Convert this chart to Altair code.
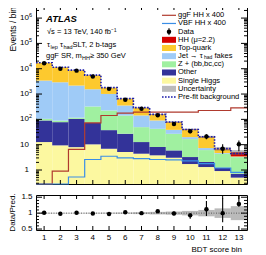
import altair as alt
import pandas as pd

# ---------------- data ----------------
bins = list(range(1, 14))
single_higgs = [12.7, 9.4, 8.0, 10.3, 6.9, 5.1, 4.4, 3.8, 3.05, 1.72, 1.31, 0.91, 0.50]
other = [77.8, 68.2, 96.7, 62.5, 30.7, 21.8, 8.3, 4.3, 2.9, 1.53, 0.76, 0.32, 0.21]
z_hf = [14.2, 11.3, 12.0, 249, 186, 115.6, 36.6, 34.2, 20.9, 13.35, 4.05, 3.15, 2.5]
fakes = [3295, 2826, 2044, 1223, 785, 209.5, 93.2, 48.2, 11.7, 3.3, 1.23, 0.29, 0.1]
top_quark = [13670, 8435, 6490, 3955, 761, 301, 141.5, 65.5, 39, 19.1, 12.5, 1.9, 0.15]
hh_signal = [0.002, 0.005, 0.04, 0.4, 0.8, 1.0, 1.05, 1.05, 1.1, 1.1, 0.5, 0.3, 1.55]
rel_unc = [0.01, 0.01, 0.01, 0.012, 0.015, 0.02, 0.03, 0.04, 0.05, 0.07, 0.10, 0.15, 0.22]

data_vals = [16500, 9900, 8400, 4900, 1600, 590, 260, 146, 66, 34, 21, 6.9, 10.3]
data_lo = [16370, 9800, 8310, 4830, 1560, 566, 244, 134, 58, 28, 16.5, 4.4, 5.5]
data_hi = [16630, 10000, 8490, 4970, 1640, 614, 276, 158, 74, 40, 25.6, 10.3, 14.5]

prefit = [17300, 11500, 8800, 5600, 1800, 660, 290, 158, 79, 40, 20.5, 7.0, 4.5]
ggf_x400 = [0.2, 0.9, 6.5, 73, 142, 175, 192, 192, 192, 192, 224, 224, 284]
vbf_x400 = [0.2, 0.2, 0.53, 2.6, 3.5, 3.0, 2.8, 2.6, 2.5, 2.3, 1.8, 1.2, 0.8]

ratio_vals = [1.01, 0.98, 1.01, 0.99, 0.97, 1.03, 1.0, 1.06, 0.99, 0.93, 1.12, 1.0, 1.29]
ratio_lo = [1.0, 0.975, 1.0, 0.98, 0.955, 1.0, 0.96, 1.02, 0.93, 0.82, 0.91, 0.71, 1.2]
ratio_hi = [1.02, 0.985, 1.02, 1.0, 0.985, 1.06, 1.04, 1.10, 1.05, 1.0, 1.38, 1.47, 1.6]

y_major = [1, 10, 100, 1e3, 1e4, 1e5, 1e6]
y_major_base = ["1", "10", "10", "10", "10", "10", "10"]
y_major_exp = ["", "", "2", "3", "4", "5", "6"]
r_major = [0.5, 1.0, 1.5]
r_major_lab = ["0.5", "1", "1.5"]
r_minor = [0.6, 0.7, 0.8, 0.9, 1.1, 1.2, 1.3, 1.4]

comp_names = ["Single Higgs", "Other", "Z + (bb,bc,cc)", "Jet fakes", "Top-quark", "HH"]
comp_colors = ["#fcf8a0", "#333399", "#a0f0a0", "#9fcbf7", "#fdc92e", "#d40000"]
ggf_color = "#b03a2e"
vbf_color = "#3a8ee6"
prefit_color = "#1a1aaa"

# ---------------- layout ----------------
W, H, HR = 211, 178, 35
FONT = "Liberation Sans"
xscale = alt.Scale(domain=[0.5, 13.5], nice=False, zero=False)
yscale = alt.Scale(type="log", domain=[0.28, 3e6], nice=False, clamp=True)
rscale = alt.Scale(domain=[0.47, 1.57], nice=False, zero=False, clamp=True)
dummy = pd.DataFrame({"d": [0]})

series = [single_higgs, other, z_hf, fakes, top_quark, hh_signal]
rows = []
for i, b in enumerate(bins):
    cum = 0.0
    for name, vals in zip(comp_names, series):
        lo = cum if cum > 0 else 1e-3
        cum += vals[i]
        rows.append(dict(xl=b - 0.5, xh=b + 0.5, lo=lo, hi=cum, comp=name))
stack_df = pd.DataFrame(rows)
total = [sum(s[i] for s in series) for i in range(len(bins))]

band_df = pd.DataFrame({
    "xl": [b - 0.5 for b in bins], "xh": [b + 0.5 for b in bins],
    "blo": [t * (1 - u) for t, u in zip(total, rel_unc)],
    "bhi": [t * (1 + u) for t, u in zip(total, rel_unc)],
    "rlo": [1 - u for u in rel_unc], "rhi": [1 + u for u in rel_unc],
})


def step_df(vals):
    xs = [b - 0.5 for b in bins] + [bins[-1] + 0.5]
    ys = list(vals) + [vals[-1]]
    return pd.DataFrame({"x": xs, "y": ys})


def text(t, x, y, size=7.5, align="left", baseline="middle", dy=0, **kw):
    return alt.Chart(dummy).mark_text(text=t, font=FONT, fontSize=size, align=align,
                                      baseline=baseline, dy=dy, color="black", **kw).encode(
        x=alt.value(x), y=alt.value(y))


def rich(x0, y0, pieces):
    out = []
    for t, dx, size, dy in pieces:
        out.append(text(t, x0 + dx, y0, size=size, dy=dy))
    return out


# ---------------- main panel ----------------
bars = alt.Chart(stack_df).mark_rect().encode(
    x=alt.X("xl:Q", scale=xscale, axis=None), x2="xh:Q",
    y=alt.Y("lo:Q", scale=yscale, axis=None), y2="hi:Q",
    color=alt.Color("comp:N", scale=alt.Scale(domain=comp_names, range=comp_colors), legend=None),
)
band = alt.Chart(band_df).mark_rect(fill="#666666", opacity=0.45).encode(
    x=alt.X("xl:Q", scale=xscale), x2="xh:Q",
    y=alt.Y("blo:Q", scale=yscale), y2="bhi:Q")


def step_line(vals, color, width=1.2, dash=None):
    kw = dict(interpolate="step-after", color=color, strokeWidth=width)
    if dash:
        kw["strokeDash"] = dash
    return alt.Chart(step_df(vals)).mark_line(**kw).encode(
        x=alt.X("x:Q", scale=xscale), y=alt.Y("y:Q", scale=yscale))


ggf_line = step_line(ggf_x400, ggf_color)
vbf_line = step_line(vbf_x400, vbf_color)
prefit_line = step_line(prefit, prefit_color, width=1.6, dash=[1.6, 1.4])

pts_df = pd.DataFrame({"bin": bins, "v": data_vals, "lo": data_lo, "hi": data_hi})
data_err = alt.Chart(pts_df).mark_rule(color="black", strokeWidth=1.1).encode(
    x=alt.X("bin:Q", scale=xscale), y=alt.Y("lo:Q", scale=yscale), y2="hi:Q")
data_pts = alt.Chart(pts_df).mark_circle(color="black", opacity=1, size=20).encode(
    x=alt.X("bin:Q", scale=xscale), y=alt.Y("v:Q", scale=yscale))

# ticks (inside)
bins_df = pd.DataFrame({"bin": bins})
ymaj_df = pd.DataFrame({"v": y_major, "base": y_major_base, "exp": y_major_exp})
minor_vals = []
for k in range(-1, 7):
    for m in range(2, 10):
        v = m * 10 ** k
        if 0.28 <= v <= 2.5e6:
            minor_vals.append(v)
ymin_df = pd.DataFrame({"v": minor_vals})


def xticks(df, height, length):
    return [
        alt.Chart(df).mark_rule(color="black", strokeWidth=1).encode(
            x=alt.X("bin:Q", scale=xscale), y=alt.value(height), y2=alt.value(height - length)),
        alt.Chart(df).mark_rule(color="black", strokeWidth=1).encode(
            x=alt.X("bin:Q", scale=xscale), y=alt.value(0), y2=alt.value(length)),
    ]


def yticks(df, scale, length):
    return [
        alt.Chart(df).mark_rule(color="black", strokeWidth=1).encode(
            y=alt.Y("v:Q", scale=scale), x=alt.value(0), x2=alt.value(length)),
        alt.Chart(df).mark_rule(color="black", strokeWidth=1).encode(
            y=alt.Y("v:Q", scale=scale), x=alt.value(W), x2=alt.value(W - length)),
    ]


main_ticks = xticks(bins_df, H, 4) + yticks(ymaj_df, yscale, 6) + yticks(ymin_df, yscale, 3)

ylab_base = alt.Chart(ymaj_df).mark_text(font=FONT, fontSize=8, align="right", baseline="middle").encode(
    y=alt.Y("v:Q", scale=yscale), x=alt.value(-7), text="base:N")
ylab_exp = alt.Chart(ymaj_df[ymaj_df["exp"] != ""]).mark_text(
    font=FONT, fontSize=5.5, align="left", baseline="middle", dy=-3.5).encode(
    y=alt.Y("v:Q", scale=yscale), x=alt.value(-7), text="exp:N")
ytitle = alt.Chart(dummy).mark_text(text="Events / bin", font=FONT, fontSize=8.5, angle=270,
                                    align="right", baseline="middle").encode(
    x=alt.value(-23), y=alt.value(1))

labels_main = [
    text("ATLAS", 10, 12.7, size=9.5, fontStyle="italic", fontWeight="bold"),
    text("\u221As = 13 TeV, 140 fb\u207B\u00B9", 11, 26),
]
labels_main += rich(11, 38.7, [("\u03C4", 0, 7.5, 0), ("lep", 3.5, 5.5, 2),
                               ("\u03C4", 12.9, 7.5, 0), ("had", 16.4, 5.5, 2),
                               (" SLT, 2 b-tags", 25.6, 7.5, 0)])
labels_main += rich(10, 50.3, [("ggF SR, m", 0, 7.5, 0), ("HH", 36, 5.5, 2),
                               (" \u2265 350 GeV", 44, 7.5, 0)])

# legend
LX0, LX1, LT = 126, 140, 142
legend = []
entries = ["ggF HH x 400", "VBF HH x 400", "Data", "HH (\u03BC=2.2)", "Top-quark", None,
           "Z + (bb,bc,cc)", "Other", "Single Higgs", "Uncertainty", "Pre-fit background"]
for i, lab in enumerate(entries):
    yc = 9.3 + 8.17 * i
    if lab is not None:
        legend.append(text(lab, LT, yc))
    else:
        legend += rich(LT, yc, [("Jet \u2192 \u03C4", 0, 7.5, 0), ("had", 26, 5, 1.2),
                                ("fakes", 36.5, 7.5, 0)])
    if i == 0:
        legend.append(alt.Chart(dummy).mark_rule(color=ggf_color, strokeWidth=1.2).encode(
            x=alt.value(LX0), x2=alt.value(LX1), y=alt.value(yc)))
    elif i == 1:
        legend.append(alt.Chart(dummy).mark_rule(color=vbf_color, strokeWidth=1.2).encode(
            x=alt.value(LX0), x2=alt.value(LX1), y=alt.value(yc)))
    elif i == 2:
        legend.append(alt.Chart(dummy).mark_rule(color="black", strokeWidth=1).encode(
            x=alt.value((LX0 + LX1) / 2), y=alt.value(yc - 3.5), y2=alt.value(yc + 3.5)))
        legend.append(alt.Chart(dummy).mark_circle(color="black", opacity=1, size=20).encode(
            x=alt.value((LX0 + LX1) / 2), y=alt.value(yc)))
    elif 3 <= i <= 8:
        col = comp_colors[5 - (i - 3)]
        legend.append(alt.Chart(dummy).mark_rect(color=col).encode(
            x=alt.value(LX0), x2=alt.value(LX1), y=alt.value(yc - 3), y2=alt.value(yc + 3)))
    elif i == 9:
        legend.append(alt.Chart(dummy).mark_rect(fill="#666666", opacity=0.45).encode(
            x=alt.value(LX0), x2=alt.value(LX1), y=alt.value(yc - 3), y2=alt.value(yc + 3)))
    elif i == 10:
        legend.append(alt.Chart(dummy).mark_rule(color=prefit_color, strokeWidth=1.6,
                                                 strokeDash=[1.6, 1.4]).encode(
            x=alt.value(LX0), x2=alt.value(LX1), y=alt.value(yc)))

main = alt.layer(bars, band, ggf_line, vbf_line, prefit_line, data_err, data_pts,
                 *main_ticks, ylab_base, ylab_exp, ytitle, *labels_main, *legend
                 ).properties(width=W, height=H)

# ---------------- ratio panel ----------------
r_df = pd.DataFrame({"bin": bins, "v": ratio_vals, "lo": ratio_lo, "hi": ratio_hi})
rmaj_df = pd.DataFrame({"v": r_major, "lab": r_major_lab})
rmin_df = pd.DataFrame({"v": r_minor})

r_band = alt.Chart(band_df).mark_rect(fill="#666666", opacity=0.45).encode(
    x=alt.X("xl:Q", scale=xscale, axis=None), x2="xh:Q",
    y=alt.Y("rlo:Q", scale=rscale, axis=None), y2="rhi:Q")
r_one = alt.Chart(pd.DataFrame({"v": [1.0]})).mark_rule(color="#444444", strokeWidth=0.8,
                                                        strokeDash=[1, 1.5]).encode(
    y=alt.Y("v:Q", scale=rscale), x=alt.value(0), x2=alt.value(W))
r_err = alt.Chart(r_df).mark_rule(color="black", strokeWidth=1.1).encode(
    x=alt.X("bin:Q", scale=xscale), y=alt.Y("lo:Q", scale=rscale), y2="hi:Q")
r_pts = alt.Chart(r_df).mark_circle(color="black", opacity=1, size=20).encode(
    x=alt.X("bin:Q", scale=xscale), y=alt.Y("v:Q", scale=rscale))
r_ticks = xticks(bins_df, HR, 4) + yticks(rmaj_df, rscale, 6) + yticks(rmin_df, rscale, 3)
r_ylab = alt.Chart(rmaj_df).mark_text(font=FONT, fontSize=8, align="right", baseline="middle").encode(
    y=alt.Y("v:Q", scale=rscale), x=alt.value(-3.5), text="lab:N")
r_xlab = alt.Chart(bins_df).mark_text(font=FONT, fontSize=8, align="center", baseline="middle").encode(
    x=alt.X("bin:Q", scale=xscale), y=alt.value(42.5), text="bin:N")
r_ytitle = alt.Chart(dummy).mark_text(text="Data/Pred.", font=FONT, fontSize=8, angle=270,
                                      align="center", baseline="middle").encode(
    x=alt.value(-23), y=alt.value(17.5))
r_xtitle = text("BDT score bin", 206, 54.5, size=8, align="right")

ratio = alt.layer(r_band, r_one, r_err, r_pts, *r_ticks, r_ylab, r_xlab, r_ytitle, r_xtitle
                  ).properties(width=W, height=HR)

chart = alt.vconcat(main, ratio, spacing=5).resolve_scale(y="independent").configure_view(
    stroke="black", strokeWidth=1).properties(padding={"left": 0, "top": -3, "right": 2, "bottom": 0})

chart.save("out.html", embed_options={"renderer": "svg", "actions": False})
